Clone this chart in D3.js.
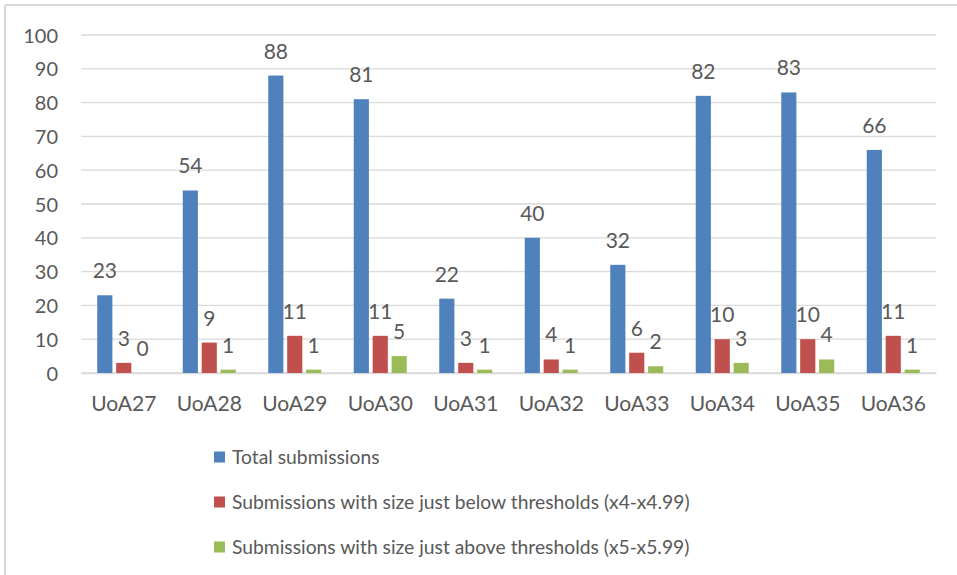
<!DOCTYPE html>
<html>
<head>
<meta charset="utf-8">
<script src="https://cdn.jsdelivr.net/npm/d3@7"></script>
<style>
  body { margin: 0; background: #fff; }
  svg text { font-family: Lato, "Open Sans", sans-serif; fill: #595959; }
</style>
</head>
<body>
<div id="chart"></div>
<script>
// dados
const categories = ['UoA27', 'UoA28', 'UoA29', 'UoA30', 'UoA31', 'UoA32', 'UoA33', 'UoA34', 'UoA35', 'UoA36'];
const seriesNames = [
    'Total submissions',
    'Submissions with size just below thresholds (x4-x4.99)',
    'Submissions with size just above thresholds (x5-x5.99)'
];
const totalSubs = [23, 54, 88, 81, 22, 40, 32, 82, 83, 66];
const belowSubs = [3, 9, 11, 11, 3, 4, 6, 10, 10, 11];
const aboveSubs = [0, 1, 1, 5, 1, 1, 2, 3, 4, 1];
const yTicks = [0, 10, 20, 30, 40, 50, 60, 70, 80, 90, 100];
const colors = ['#4f81bd', '#c0504d', '#9bbb59'];

const allValues = [totalSubs, belowSubs, aboveSubs];

const width = 957, height = 575;
const margin = { left: 81, right: 21, top: 35, bottom: 202 };

const svg = d3.select('#chart')
    .append('svg')
    .attr('width', width)
    .attr('height', height);

// moldura exterior
svg.append('line').attr('x1', 5).attr('y1', 5).attr('x2', width).attr('y2', 5)
    .attr('stroke', '#d9d9d9').attr('stroke-width', 2);
svg.append('line').attr('x1', 5).attr('y1', 5).attr('x2', 5).attr('y2', height)
    .attr('stroke', '#d9d9d9').attr('stroke-width', 2);

const x0 = d3.scaleBand()
    .domain(categories)
    .range([margin.left, width - margin.right])
    .padding(0);

const x1 = d3.scaleBand()
    .domain(d3.range(3))
    .range([0, 53])
    .paddingInner(0.2);

const y = d3.scaleLinear()
    .domain([0, 100])
    .range([height - margin.bottom, margin.top]);

// grelha
svg.append('g')
    .selectAll('line')
    .data(yTicks)
    .enter()
    .append('line')
    .attr('x1', margin.left)
    .attr('x2', width - margin.right)
    .attr('y1', d => y(d))
    .attr('y2', d => y(d))
    .attr('stroke', '#d9d9d9')
    .attr('stroke-width', 1.3);

// eixo y
const yAxis = svg.append('g')
    .attr('transform', `translate(${margin.left - 23},0)`)
    .call(d3.axisLeft(y).tickValues(yTicks).tickSize(0).tickPadding(0));
yAxis.select('.domain').remove();
yAxis.selectAll('text')
    .style('font-size', '20px')
    .style('fill', '#595959')
    .attr('dy', '0.35em');

// eixo x
const xAxis = svg.append('g')
    .attr('transform', `translate(0,${y(0)})`)
    .call(d3.axisBottom(x0).tickSize(0).tickPadding(0));
xAxis.select('.domain')
    .attr('stroke', '#d9d9d9')
    .attr('stroke-width', 1.3);
xAxis.selectAll('text')
    .style('font-size', '21px')
    .style('fill', '#595959')
    .attr('dy', '0')
    .attr('y', 38);

// barras
const groups = svg.append('g')
    .selectAll('g')
    .data(categories)
    .enter()
    .append('g')
    .attr('transform', d => `translate(${x0(d) + (x0.bandwidth() - 53) / 2},0)`);

groups.each(function (cat, ci) {
    const g = d3.select(this);
    allValues.forEach((vals, si) => {
        const v = vals[ci];
        g.append('rect')
            .attr('x', x1(si))
            .attr('y', y(v))
            .attr('width', x1.bandwidth())
            .attr('height', y(0) - y(v))
            .attr('fill', colors[si]);
        g.append('text')
            .attr('x', x1(si) + x1.bandwidth() / 2)
            .attr('y', y(v) - 17)
            .attr('text-anchor', 'middle')
            .style('font-size', '21px')
            .text(v);
    });
});

// legenda
const legend = svg.append('g')
    .selectAll('g')
    .data(seriesNames)
    .enter()
    .append('g')
    .attr('transform', (d, i) => `translate(214,${457 + i * 45})`);
legend.append('rect')
    .attr('x', 0)
    .attr('y', -5.5)
    .attr('width', 11)
    .attr('height', 11)
    .attr('fill', (d, i) => colors[i]);
legend.append('text')
    .attr('x', 18)
    .attr('y', 0)
    .attr('dy', '0.35em')
    .style('font-size', '19.3px')
    .text(d => d);
</script>
</body>
</html>
